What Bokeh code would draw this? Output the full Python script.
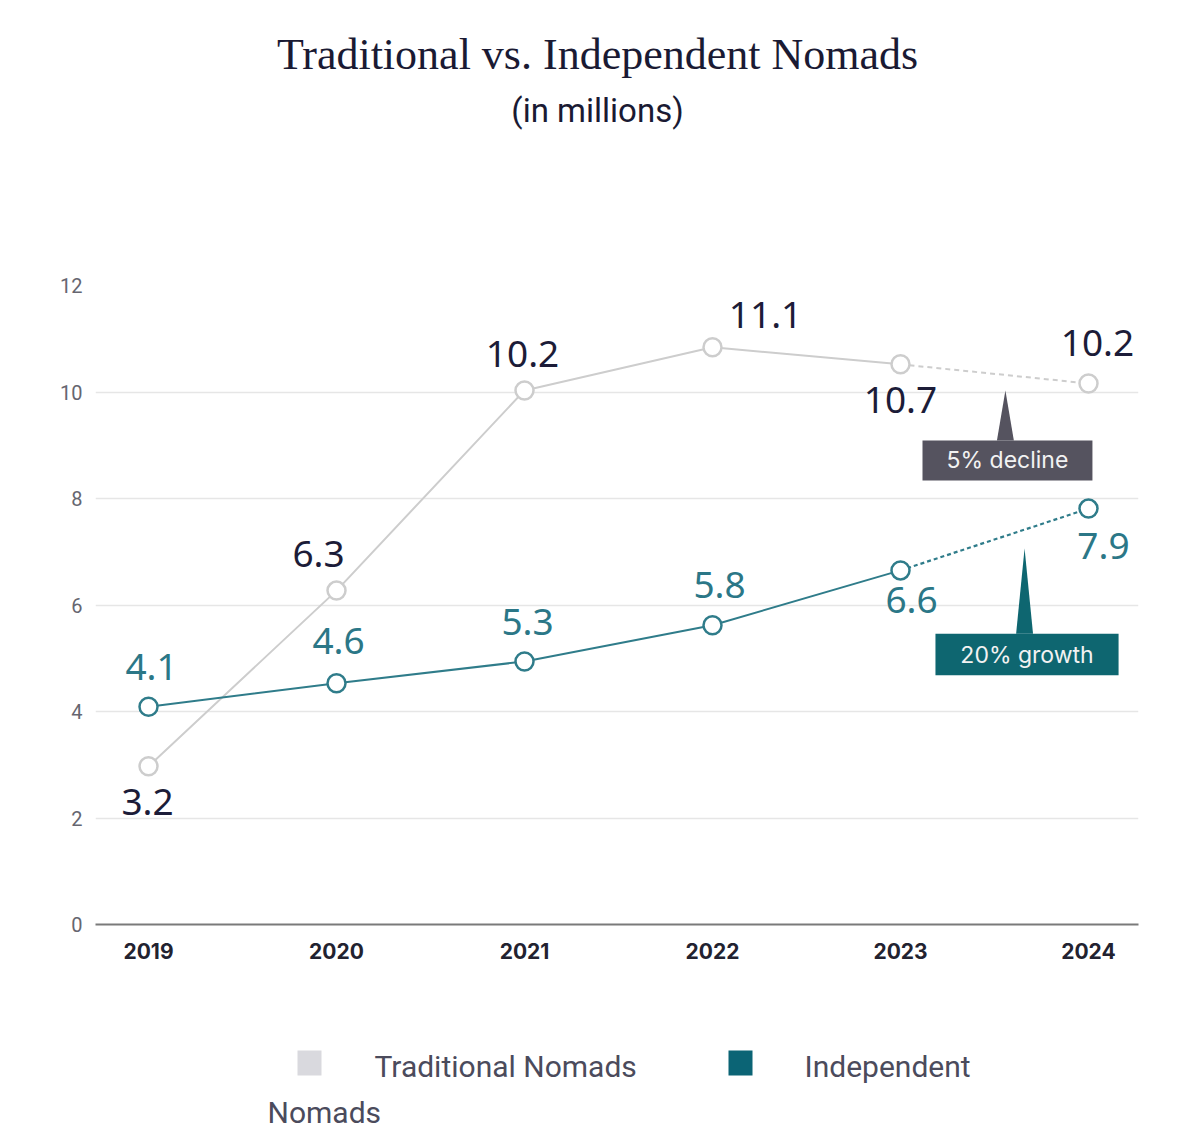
from bokeh.plotting import figure
from bokeh.models import Range1d, FixedTicker, ColumnDataSource
from bokeh.layouts import column
from bokeh.core.properties import value
from bokeh.embed import file_html
from bokeh.resources import INLINE

# ---------------- data ----------------
years = [2019, 2020, 2021, 2022, 2023, 2024]
traditional = [2.97, 6.27, 10.03, 10.84, 10.52, 10.16]
independent = [4.09, 4.53, 4.94, 5.62, 6.65, 7.81]
trad_labels = ["3.2", "6.3", "10.2", "11.1", "10.7", "10.2"]
ind_labels = ["4.1", "4.6", "5.3", "5.8", "6.6", "7.9"]
y_ticks = [0, 2, 4, 6, 8, 10, 12]
series_names = ["Traditional Nomads", "Independent Nomads"]
callout_texts = ["5% decline", "20% growth"]
title_text = "Traditional vs. Independent Nomads"
subtitle_text = "(in millions)"

# ---------------- styles ----------------
TRAD_LINE = "#cdcdcd"
TRAD_TEXT = "#1c1c38"
IND_LINE = "#2f7c8a"
IND_TEXT = "#2b7787"
DECLINE_BOX = "#55535f"
GROWTH_BOX = "#0e6670"
LEGEND_TRAD = "#d9d9de"
LEGEND_IND = "#0b6475"

W = 1184
LEFT, RIGHT = 95, 46          # frame borders (pixels)
TOP_H = 245                   # title strip height
MAIN_H = 773
LEG_H = 118

# label pixel offsets (screen, +y is down)
trad_dx = [-1, -18, -2, 53, 0, 9]
trad_dy = [36, -37, -36, -32, 36, -40]
ind_dx = [3, 2, 3, 7, 11, 15]
ind_dy = [-40, -42, -39, -40, 30, 37]


def strip(height):
    f = figure(width=W, height=height, x_range=Range1d(LEFT, W - RIGHT),
               y_range=Range1d(height, 0), output_backend="svg", toolbar_location=None,
               min_border_left=LEFT, min_border_right=RIGHT, min_border_top=0,
               min_border_bottom=0, x_axis_type=None, y_axis_type=None)
    f.outline_line_color = None
    f.xgrid.grid_line_color = None
    f.ygrid.grid_line_color = None
    return f


# ---------------- title strip ----------------
tf = strip(TOP_H)
tf.text(x=[597], y=[54], text=[title_text], text_align="center", text_baseline="alphabetic",
        text_font=value("Liberation Serif"), text_font_size="44px", text_color="#1a1a33")
tf.text(x=[597], y=[110], text=[subtitle_text], text_align="center", text_baseline="alphabetic",
        text_font=value("Roboto"), text_font_size="33px", text_color="#1a1a33")

# ---------------- main chart ----------------
p = figure(width=W, height=MAIN_H,
           x_range=Range1d(2018.718, 2024.266), y_range=Range1d(0, 12),
           output_backend="svg", toolbar_location=None,
           min_border_left=LEFT, min_border_right=RIGHT,
           min_border_top=40, min_border_bottom=94)
p.outline_line_color = None

p.xgrid.grid_line_color = None
p.ygrid.grid_line_color = "#e6e6e6"
p.ygrid.grid_line_width = 1.5
p.yaxis.ticker = FixedTicker(ticks=y_ticks)
p.xaxis.ticker = FixedTicker(ticks=years)

p.yaxis.axis_line_color = None
p.yaxis.major_tick_line_color = None
p.yaxis.minor_tick_line_color = None
p.yaxis.major_label_text_font = "Roboto"
p.yaxis.major_label_text_font_size = "20px"
p.yaxis.major_label_text_color = "#666670"
p.yaxis.major_label_standoff = 7

p.xaxis.axis_line_color = "#7a7a7a"
p.xaxis.axis_line_width = 2
p.xaxis.major_tick_line_color = None
p.xaxis.minor_tick_line_color = None
p.xaxis.major_label_text_font = "Inter"
p.xaxis.major_label_text_font_style = "bold"
p.xaxis.major_label_text_font_size = "21px"
p.xaxis.major_label_text_color = "#222230"
p.xaxis.major_label_standoff = 12

# lines
p.line(years[:5], traditional[:5], line_color=TRAD_LINE, line_width=2)
p.line(years[4:], traditional[4:], line_color=TRAD_LINE, line_width=2, line_dash="5 4")
p.line(years[:5], independent[:5], line_color=IND_LINE, line_width=2)
p.line(years[4:], independent[4:], line_color=IND_LINE, line_width=2.2, line_dash="4 3")

# callouts (pointer + box + text), in data units
callouts = [
    dict(text=callout_texts[0], color=DECLINE_BOX, left=2023.117, right=2024.021,
         top=9.09, bottom=8.34, apex_x=2023.558, apex_y=10.03, half=0.045),
    dict(text=callout_texts[1], color=GROWTH_BOX, left=2023.186, right=2024.160,
         top=5.46, bottom=4.68, apex_x=2023.660, apex_y=7.06, half=0.045),
]
for c in callouts:
    p.patch([c["apex_x"] - c["half"], c["apex_x"], c["apex_x"] + c["half"]],
            [c["top"], c["apex_y"], c["top"]], fill_color=c["color"], line_color=None)
    p.quad(left=[c["left"]], right=[c["right"]], top=[c["top"]], bottom=[c["bottom"]],
           fill_color=c["color"], line_color=None)
    p.text(x=[(c["left"] + c["right"]) / 2], y=[(c["top"] + c["bottom"]) / 2],
           text=[c["text"]], text_align="center", text_baseline="middle",
           text_font=value("Inter"), text_font_size="23px", text_color="#f2f2f2")

# markers
p.scatter(years, traditional, size=18, marker="circle", fill_color="white",
          line_color=TRAD_LINE, line_width=2.5)
p.scatter(years, independent, size=18, marker="circle", fill_color="white",
          line_color=IND_LINE, line_width=2.5)

# data labels
src_t = ColumnDataSource(dict(x=years, y=traditional, t=trad_labels, dx=trad_dx, dy=trad_dy))
src_i = ColumnDataSource(dict(x=years, y=independent, t=ind_labels, dx=ind_dx, dy=ind_dy))
p.text(x="x", y="y", text="t", x_offset="dx", y_offset="dy", source=src_t,
       text_align="center", text_baseline="middle", text_font=value("Noto Sans"),
       text_font_size="37px", text_color=TRAD_TEXT)
p.text(x="x", y="y", text="t", x_offset="dx", y_offset="dy", source=src_i,
       text_align="center", text_baseline="middle", text_font=value("Noto Sans"),
       text_font_size="37px", text_color=IND_TEXT)

# ---------------- legend strip (pixel coordinates) ----------------
lf = strip(LEG_H)
lf.rect(x=[309, 740], y=[44.5, 44.5], width=24, height=25,
        fill_color=[LEGEND_TRAD, LEGEND_IND], line_color=None)
ind_words = series_names[1].split(" ")
lf.text(x=[374, 804, 267], y=[48, 48, 94],
        text=[series_names[0], ind_words[0], ind_words[1]],
        text_align="left", text_baseline="middle", text_font=value("Roboto"),
        text_font_size="30px", text_color="#4b4b5c")

layout = column(tf, p, lf)
open("out.html", "w").write(file_html(layout, INLINE))
